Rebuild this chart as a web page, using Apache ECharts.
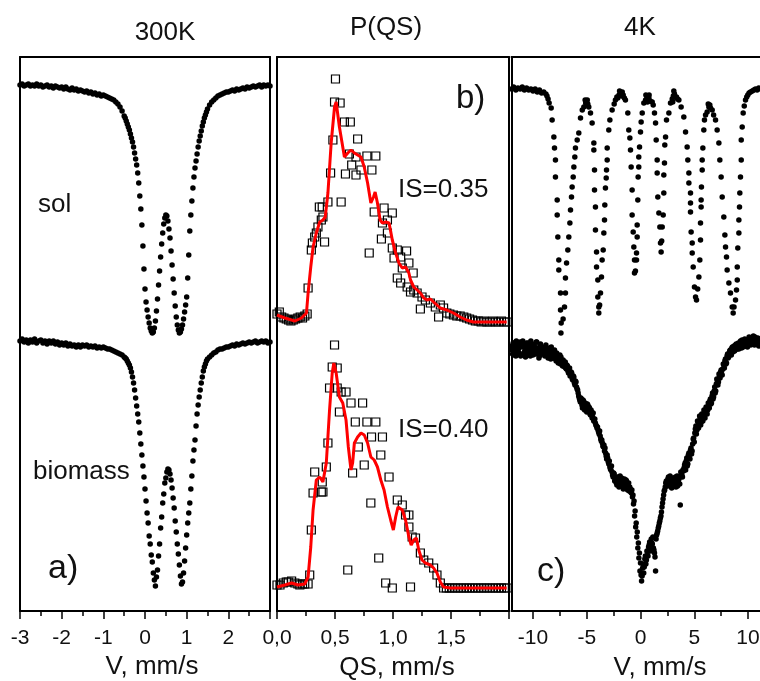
<!DOCTYPE html>
<html>
<head>
<meta charset="utf-8">
<script src="https://cdn.jsdelivr.net/npm/echarts/dist/echarts.min.js"></script>
<style>html,body{margin:0;padding:0;background:#fff}#c{width:760px;height:681px}</style>
</head>
<body>
<div id="c"></div>
<script>
// ---------- Panel a: 300K spectra (velocity, mm/s ; counts in plot units) ----------
const velA = [
-3,-2.95,-2.9,-2.85,-2.8,-2.75,-2.7,-2.65,-2.6,-2.55,
-2.5,-2.45,-2.4,-2.35,-2.3,-2.25,-2.2,-2.15,-2.1,-2.05,
-2,-1.95,-1.9,-1.85,-1.8,-1.75,-1.7,-1.65,-1.6,-1.55,
-1.5,-1.45,-1.4,-1.35,-1.3,-1.25,-1.2,-1.15,-1.1,-1.05,
-1,-0.95,-0.9,-0.85,-0.8,-0.75,-0.7,-0.65,-0.6,-0.55,-0.5,
-0.475,-0.45,-0.425,-0.4,-0.375,-0.35,-0.325,-0.3,-0.275,-0.25,
-0.225,-0.2,-0.175,-0.15,-0.125,-0.1,-0.075,-0.05,-0.025,0,
0.025,0.05,0.075,0.1,0.125,0.15,0.175,0.2,0.225,0.25,
0.275,0.3,0.325,0.35,0.375,0.4,0.425,0.45,0.475,0.5,
0.525,0.55,0.575,0.6,0.625,0.65,0.675,0.7,0.725,0.75,
0.775,0.8,0.825,0.85,0.875,0.9,0.925,0.95,0.975,1,
1.025,1.05,1.075,1.1,1.125,1.15,1.175,1.2,1.225,1.25,
1.275,1.3,1.325,1.35,1.375,1.4,1.425,1.45,1.475,1.5,
1.55,1.6,1.65,1.7,1.75,1.8,1.85,1.9,1.95,2,
2.05,2.1,2.15,2.2,2.25,2.3,2.35,2.4,2.45,2.5,
2.55,2.6,2.65,2.7,2.75,2.8,2.85,2.9,2.95,3];
const solT = [
526,527,525,526,527,525,526,525,527,525,
526,524,525,526,524,525,523,525,524,523,
524,522,524,522,521,523,521,522,520,521,
520,519,520,518,519,517,518,516,517,515,
516,515,514,513,512,511,509,507,504,500,495,
493,490,487,484,481,477,473,469,464,458,
452,446,438,428,415,402,386,365,342,322,
309,301,294,288,283,280,278,279,283,290,
300,312,326,340,354,367,378,387,393,396,
395,390,382,373,360,346,332,318,305,294,
286,281,278,279,282,286,292,299,306,314,
333,356,380,396,410,423,434,443,450,457,
464,470,475,480,485,489,493,496,499,502,
506,509,511,513,515,516,517,518,519,519,
520,521,520,522,521,522,523,522,524,523,
524,525,524,525,526,524,526,525,526,525];
const bioT = [
270,272,269,271,268,271,269,272,268,270,
271,268,270,267,270,268,270,267,269,266,
268,266,268,265,267,265,266,264,266,264,
266,265,266,264,265,264,265,263,264,263,
264,263,262,262,261,260,259,258,257,256,254,
253,252,250,248,246,243,239,234,228,221,
213,205,197,189,178,167,156,145,134,122,
110,98,88,75,67,56,49,38,31,25,
34,41,55,67,83,94,108,117,128,133,
139,142,141,137,131,123,113,103,90,79,
67,57,46,35,27,29,38,50,63,76,
88,98,108,122,135,150,161,171,185,197,
206,214,221,228,234,240,244,247,250,252,
254,256,258,259,261,262,262,263,264,264,
265,266,265,267,266,267,268,267,268,269,
268,269,270,268,269,270,269,270,268,269];

// ---------- Panel b: P(QS) distributions [QS, P] ----------
const sq35 = [
[0,297],[0.02,299],[0.04,294],[0.06,293],[0.08,292],[0.1,291],[0.12,290],[0.14,291],[0.16,292],[0.18,293],[0.2,294],[0.22,293],[0.24,295],[0.26,297],
[0.268,323],[0.296,361],[0.305,368],[0.325,374],[0.339,378],[0.353,384],[0.365,404],[0.382,391],[0.39,404],[0.396,394],[0.41,369],[0.439,409],[0.462,438],[0.482,471],[0.496,509],[0.504,532],[0.544,508],[0.553,409],[0.581,489],[0.59,437],[0.624,457],[0.632,489],[0.644,446],[0.681,436],[0.681,454],[0.695,472],[0.724,441],[0.775,455],[0.795,358],[0.818,441],[0.838,399],[0.852,455],[0.9,372],[0.909,388],[0.923,403],[0.952,391],[0.952,378],[0.994,398],[0.994,363],[1.009,353],[1.037,361],[1.037,333],[1.066,354],[1.066,328],[1.08,343],[1.117,360],[1.122,324],[1.137,348],[1.151,319],[1.174,338],[1.179,321],[1.208,318],[1.236,302],[1.25,314],[1.279,311],[1.322,308],[1.365,304],[1.393,294],[1.408,306],[1.436,303],[1.464,298],[1.49,297],[1.521,296],[1.55,295],[1.579,295],[1.61,294],[1.635,293],[1.66,292],[1.685,291],[1.71,290],[1.735,290],[1.76,289],[1.785,290],[1.81,289],[1.835,289],[1.86,290],[1.885,289],[1.91,289],[1.935,290],[1.96,289],[1.985,289]];
const fit35 = [
[0,296],[0.068,293],[0.154,290],[0.211,293],[0.254,298],[0.268,318],[0.291,344],[0.311,364],[0.339,378],[0.368,389],[0.396,391],[0.416,394],[0.439,418],[0.467,468],[0.496,504],[0.51,509],[0.538,484],[0.567,464],[0.581,454],[0.61,458],[0.638,461],[0.667,458],[0.695,456],[0.724,454],[0.752,444],[0.781,428],[0.809,408],[0.832,414],[0.846,419],[0.866,408],[0.889,391],[0.909,388],[0.937,389],[0.966,388],[0.994,371],[1.023,358],[1.051,348],[1.08,343],[1.108,344],[1.137,338],[1.151,331],[1.179,324],[1.208,321],[1.236,318],[1.265,313],[1.293,311],[1.322,312],[1.35,309],[1.379,306],[1.407,303],[1.436,302],[1.464,301],[1.521,298],[1.579,294],[1.635,291],[1.692,289],[1.98,289]];
const sq40 = [
[0,26],[0.026,26],[0.054,28],[0.08,29],[0.097,29],[0.126,30],[0.154,28],[0.18,27],[0.197,26],[0.22,27],[0.239,27],[0.268,27],[0.282,36],[0.296,81],[0.311,118],[0.325,139],[0.382,119],[0.39,129],[0.396,119],[0.425,144],[0.439,168],[0.453,223],[0.476,244],[0.496,266],[0.519,243],[0.519,223],[0.538,199],[0.553,219],[0.595,219],[0.61,41],[0.638,208],[0.652,138],[0.675,189],[0.701,164],[0.738,208],[0.752,146],[0.775,189],[0.809,108],[0.815,174],[0.852,189],[0.877,53],[0.895,156],[0.909,174],[0.937,28],[0.966,134],[0.994,23],[1.037,111],[1.08,106],[1.108,96],[1.137,96],[1.137,84],[1.151,24],[1.165,74],[1.194,73],[1.236,58],[1.265,51],[1.308,48],[1.35,43],[1.379,36],[1.408,28],[1.436,23],[1.46,23],[1.485,23],[1.51,23],[1.535,23],[1.56,23],[1.585,23],[1.61,23],[1.635,23],[1.66,23],[1.685,23],[1.71,23],[1.735,23],[1.76,23],[1.785,23],[1.81,23],[1.835,23],[1.86,23],[1.885,23],[1.91,23],[1.935,23],[1.96,23],[1.985,23]];
const fit40 = [
[0,24],[0.068,26],[0.126,28],[0.182,26],[0.239,27],[0.268,34],[0.291,64],[0.311,101],[0.339,131],[0.368,134],[0.396,129],[0.425,148],[0.453,201],[0.476,238],[0.49,248],[0.51,238],[0.538,214],[0.567,208],[0.595,191],[0.615,164],[0.638,141],[0.652,148],[0.667,168],[0.695,174],[0.724,178],[0.752,176],[0.781,168],[0.809,154],[0.838,151],[0.866,144],[0.895,131],[0.923,121],[0.952,104],[0.98,91],[1.003,81],[1.023,94],[1.043,104],[1.08,101],[1.108,91],[1.137,74],[1.157,66],[1.179,71],[1.202,73],[1.222,61],[1.25,51],[1.279,48],[1.322,46],[1.35,43],[1.379,38],[1.408,29],[1.436,24],[1.493,23],[1.98,23]];

// ---------- Panel c: 4K spectra ----------
const top4K = [
[-12,522],[-11.8,524],[-11.6,521],[-11.4,523],[-11.2,522],[-11,524],[-10.8,521],[-10.6,523],[-10.4,521],[-10.2,522],[-10,520],[-9.8,522],[-9.6,519],[-9.4,521],[-9.2,518],[-9,519],[-8.8,517],[-8.7,515],[-8.6,512],[-8.5,508],
[-8.31,503],[-8.22,491],[-8.06,474],[-8,463],[-7.91,451],[-7.91,434],[-7.75,411],[-7.75,396],[-7.69,374],[-7.6,351],[-7.6,341],[-7.44,318],[-7.44,301],[-7.38,288],[-7.4,278],
[-7.2,292],[-7.07,304],[-6.98,318],[-6.98,333],[-6.88,348],[-6.76,361],[-6.67,374],[-6.57,388],[-6.51,401],[-6.42,414],[-6.36,424],[-6.26,434],[-6.2,444],[-6.11,454],[-6.05,463],[-5.89,471],[-5.74,478],[-5.58,493],[-5.42,501],[-5.27,504],[-5.15,511],[-5.1,508],[-5.02,506],[-4.95,511],[-4.9,507],[-4.81,504],[-4.65,498],
[-4.5,488],[-4.34,468],[-4.34,461],[-4.28,441],[-4.28,421],[-4.19,404],[-4.19,381],[-4.09,359],[-4.09,344],[-3.97,331],[-3.97,314],[-3.88,304],[-3.88,298],[-3.8,306],[-3.72,318],[-3.63,334],[-3.57,351],[-3.47,361],[-3.41,378],[-3.35,391],[-3.32,406],[-3.26,423],[-3.19,433],[-3.16,441],[-3.1,451],[-3.1,463],[-2.95,481],[-2.85,491],[-2.64,501],[-2.45,507],[-2.33,511],[-2.2,514],[-2.11,513],[-2,516],[-1.95,520],[-1.86,517],[-1.75,515],[-1.7,519],[-1.61,516],[-1.5,513],[-1.4,511],
[-1.18,498],[-1.09,481],[-0.99,473],[-0.93,461],[-0.87,444],[-0.78,421],[-0.78,396],[-0.68,379],[-0.62,364],[-0.56,351],[-0.56,338],[-0.47,340],[-0.37,351],[-0.37,358],[-0.31,374],[-0.31,386],[-0.25,411],[-0.22,434],[-0.16,444],[-0.16,454],[-0.09,464],[0,479],[0.06,489],[0.16,498],[0.31,508],[0.47,511],[0.5,516],[0.6,514],[0.65,509],[0.7,511],[0.78,513],[0.8,516],[0.9,510],[1.09,509],
[1.18,506],[1.3,498],[1.4,488],[1.46,471],[1.55,451],[1.55,438],[1.61,414],[1.71,398],[1.8,384],[1.86,368],[1.92,359],[1.97,370],[2.02,384],[2.11,396],[2.17,418],[2.17,436],[2.23,448],[2.26,466],[2.33,474],[2.42,491],[2.64,498],[2.79,508],[2.95,512],[3,509],[3.05,515],[3.1,520],[3.16,517],[3.25,514],[3.35,514],[3.45,512],
[3.57,511],[3.78,504],[4.03,494],[4.19,479],[4.34,464],[4.4,451],[4.5,438],[4.5,428],[4.65,418],[4.65,408],[4.65,399],[4.71,379],[4.81,368],[4.81,358],[4.9,344],[5.02,324],[5.12,314],[5.21,311],[5.32,322],[5.43,334],[5.52,351],[5.58,371],[5.58,388],[5.64,404],[5.64,411],[5.67,424],[5.74,441],[5.74,451],[5.8,463],[5.89,481],[5.95,491],[6.05,496],[6.2,499],[6.3,507],[6.36,504],[6.45,506],[6.51,503],
[6.67,501],[6.8,496],[6.98,491],[7.13,481],[7.29,468],[7.38,451],[7.5,434],[7.6,414],[7.75,394],[7.85,376],[7.91,364],[8,354],[8.06,341],[8.22,328],[8.37,318],[8.53,304],[8.62,298],[8.7,304],[8.84,311],[8.93,321],[9,331],[9,344],[9.05,363],[9.15,378],[9.15,391],[9.21,404],[9.24,418],[9.3,434],[9.37,451],[9.37,471],[9.46,484],[9.55,498],[9.65,505],[9.77,511],[9.88,514],[9.98,516],[10.1,518],[10.23,519],[10.4,520],[10.54,521],[10.7,522],[10.85,521],[11,523],[11.2,522],[11.4,524],[11.6,523],[11.8,524],[12,523]];
const velC = [
-12,-11.9,-11.8,-11.7,-11.6,-11.5,-11.4,-11.3,-11.2,-11.1,
-11,-10.9,-10.8,-10.7,-10.6,-10.5,-10.4,-10.3,-10.2,-10.1,
-10,-9.9,-9.8,-9.7,-9.6,-9.5,-9.4,-9.3,-9.2,-9.1,
-9,-8.9,-8.8,-8.7,-8.6,-8.5,-8.4,-8.3,-8.2,-8.1,
-8,-7.9,-7.8,-7.7,-7.6,-7.5,-7.4,-7.3,-7.2,-7.1,
-7,-6.9,-6.8,-6.7,-6.6,-6.5,-6.4,-6.3,-6.2,-6.1,
-6,-5.9,-5.8,-5.7,-5.6,-5.5,-5.4,-5.3,-5.2,-5.1,
-5,-4.9,-4.8,-4.7,-4.6,-4.5,-4.4,-4.3,-4.2,-4.1,
-4,-3.9,-3.8,-3.7,-3.6,-3.5,-3.4,-3.3,-3.2,-3.1,
-3,-2.9,-2.8,-2.7,-2.6,-2.5,-2.4,-2.3,-2.2,-2.1,
-2,-1.9,-1.8,-1.7,-1.6,-1.5,-1.4,-1.3,-1.2,-1.1,
-1,-0.9,-0.8,-0.7,-0.6,-0.5,-0.4,-0.3,-0.2,-0.1,
0,0.1,0.2,0.3,0.4,0.5,0.6,0.7,0.8,0.9,
1,1.1,1.2,1.3,1.4,1.5,1.6,1.7,1.8,1.9,
2,2.1,2.2,2.3,2.4,2.5,2.6,2.7,2.8,2.9,
3,3.1,3.2,3.3,3.4,3.5,3.6,3.7,3.8,3.9,
4,4.1,4.2,4.3,4.4,4.5,4.6,4.7,4.8,4.9,
5,5.1,5.2,5.3,5.4,5.5,5.6,5.7,5.8,5.9,
6,6.1,6.2,6.3,6.4,6.5,6.6,6.7,6.8,6.9,
7,7.1,7.2,7.3,7.4,7.5,7.6,7.7,7.8,7.9,
8,8.1,8.2,8.3,8.4,8.5,8.6,8.7,8.8,8.9,
9,9.1,9.2,9.3,9.4,9.5,9.6,9.7,9.8,9.9,
10,10.1,10.2,10.3,10.4,10.5,10.6,10.7,10.8,10.9,
11,11.1,11.2,11.3,11.4,11.5,11.6,11.7,11.8,11.9];
const bot4K = [
265,257,268,260,255,266,263,258,269,256,
264,267,259,254,268,262,257,265,270,260,
256,266,261,269,258,263,255,267,262,259,
263,255,266,258,253,262,259,264,254,260,
261,252,258,255,250,256,254,247,251,246,
249,242,245,238,243,236,238,231,234,226,
229,222,218,213,209,212,203,210,201,207,
199,206,204,197,201,193,198,191,188,185,
184,179,180,172,171,165,166,163,155,156,
149,150,142,145,136,138,130,133,126,131,
124,135,127,129,122,132,125,130,121,128,
124,119,121,116,110,100,88,79,68,58,
48,30,43,38,52,47,60,55,66,62,
72,67,63,58,40,76,80,85,90,95,
104,112,120,124,130,127,134,125,131,123,
133,126,130,124,135,129,133,106,137,134,
140,146,141,153,147,158,152,163,160,172,
169,182,177,190,183,195,186,197,190,201,
193,204,197,208,203,212,208,218,214,224,
220,232,226,237,233,241,236,247,243,252,
248,257,254,260,258,263,259,265,261,267,
262,268,264,270,263,269,266,272,265,271,
268,274,267,272,269,275,266,271,268,273,
265,270,267,271,266,272,268,270,266,269];
// intermediate channels of the 4K biomass spectrum
const velC2 = [
-11.95,-11.85,-11.75,-11.65,-11.55,-11.45,-11.35,-11.25,-11.15,-11.05,
-10.95,-10.85,-10.75,-10.65,-10.55,-10.45,-10.35,-10.25,-10.15,-10.05,
-9.95,-9.85,-9.75,-9.65,-9.55,-9.45,-9.35,-9.25,-9.15,-9.05,
-8.95,-8.85,-8.75,-8.65,-8.55,-8.45,-8.35,-8.25,-8.15,-8.05,
-7.95,-7.85,-7.75,-7.65,-7.55,-7.45,-7.35,-7.25,-7.15,-7.05,
-6.95,-6.85,-6.75,-6.65,-6.55,-6.45,-6.35,-6.25,-6.15,-6.05,
-5.95,-5.85,-5.75,-5.65,-5.55,-5.45,-5.35,-5.25,-5.15,-5.05,
-4.95,-4.85,-4.75,-4.65,-4.55,-4.45,-4.35,-4.25,-4.15,-4.05,
-3.95,-3.85,-3.75,-3.65,-3.55,-3.45,-3.35,-3.25,-3.15,-3.05,
-2.95,-2.85,-2.75,-2.65,-2.55,-2.45,-2.35,-2.25,-2.15,-2.05,
-1.95,-1.85,-1.75,-1.65,-1.55,-1.45,-1.35,-1.25,-1.15,-1.05,
-0.95,-0.85,-0.75,-0.65,-0.55,-0.45,-0.35,-0.25,-0.15,-0.05,
0.05,0.15,0.25,0.35,0.45,0.55,0.65,0.75,0.85,0.95,
1.05,1.15,1.25,1.35,1.45,1.55,1.65,1.75,1.85,1.95,
2.05,2.15,2.25,2.35,2.45,2.55,2.65,2.75,2.85,2.95,
3.05,3.15,3.25,3.35,3.45,3.55,3.65,3.75,3.85,3.95,
4.05,4.15,4.25,4.35,4.45,4.55,4.65,4.75,4.85,4.95,
5.05,5.15,5.25,5.35,5.45,5.55,5.65,5.75,5.85,5.95,
6.05,6.15,6.25,6.35,6.45,6.55,6.65,6.75,6.85,6.95,
7.05,7.15,7.25,7.35,7.45,7.55,7.65,7.75,7.85,7.95,
8.05,8.15,8.25,8.35,8.45,8.55,8.65,8.75,8.85,8.95,
9.05,9.15,9.25,9.35,9.45,9.55,9.65,9.75,9.85,9.95,
10.05,10.15,10.25,10.35,10.45,10.55,10.65,10.75,10.85,10.95,
11.05,11.15,11.25,11.35,11.45,11.55,11.65,11.75,11.85,11.95];
const bot4K2 = [
261,268,256,264,270,259,262,267,255,265,
270,258,263,266,256,268,261,255,264,267,
260,264,257,269,262,253,266,259,264,257,
258,264,256,261,257,263,252,258,256,253,
256,250,254,248,252,247,250,245,249,244,
243,246,240,241,235,239,232,235,228,230,
224,221,215,211,213,206,211,204,208,202,
207,200,203,196,199,194,190,192,186,183,
181,177,175,170,168,164,160,158,152,153,
147,144,141,139,134,137,131,128,134,127,
130,125,133,126,129,123,131,124,127,120,
122,118,114,107,95,84,74,63,53,40,
36,35,47,44,55,51,59,64,69,60,
68,74,61,54,72,78,83,88,93,99,
108,116,121,128,125,132,128,135,126,129,
131,127,134,128,125,131,127,139,136,141,
143,148,150,145,156,153,161,157,167,173,
178,185,181,189,186,193,189,196,194,199,
198,203,201,206,210,207,215,212,220,218,
227,230,229,235,239,240,242,246,250,247,
255,253,258,261,256,264,262,260,266,263,
265,262,268,266,271,264,270,267,269,264,
270,272,266,273,268,270,274,267,271,269,
267,272,268,265,270,271,267,273,266,270];

// ---------- Axis ticks ----------
const majorA = [-3,-2,-1,0,1,2,3], labelsA = [-3,-2,-1,0,1,2], minorA = [-2.5,-1.5,-0.5,0.5,1.5,2.5];
const majorB = [0,0.5,1,1.5,2], labelsB = [0,0.5,1,1.5], minorB = [0.25,0.75,1.25,1.75];
const majorC = [-10,-5,0,5,10], labelsC = [-10,-5,0,5,10], minorC = [-7.5,-2.5,2.5,7.5];

const FONT = '"Liberation Sans", Arial, Helvetica, sans-serif';
const INK = '#111';
const frameLine = {color:'#000', width:2};

const xAxes = [], yAxes = [];
function addPanel(p, min, max, major, labels, minor, fmt) {
  xAxes.push({gridIndex:p, type:'value', min:min, max:max, position:'bottom',
    axisLine:{show:true, onZero:false, lineStyle:frameLine},
    axisTick:{show:true, customValues:major, length:8, lineStyle:{color:'#000', width:1.5}},
    axisLabel:{show:true, customValues:labels, formatter:fmt, fontSize:21, fontFamily:FONT, color:INK, margin:17},
    splitLine:{show:false}});
  xAxes.push({gridIndex:p, type:'value', min:min, max:max, position:'bottom',
    axisLine:{show:false, onZero:false},
    axisTick:{show:true, customValues:minor, length:5, lineStyle:{color:'#000', width:1.5}},
    axisLabel:{show:false}, splitLine:{show:false}});
  xAxes.push({gridIndex:p, type:'value', min:min, max:max, position:'top',
    axisLine:{show:true, onZero:false, lineStyle:frameLine},
    axisTick:{show:false}, axisLabel:{show:false}, splitLine:{show:false}});
  yAxes.push({gridIndex:p, type:'value', min:0, max:554, position:'left',
    axisLine:{show:true, onZero:false, lineStyle:frameLine},
    axisTick:{show:false}, axisLabel:{show:false}, splitLine:{show:false}});
  yAxes.push({gridIndex:p, type:'value', min:0, max:554, position:'right',
    axisLine:{show:true, onZero:false, lineStyle:frameLine},
    axisTick:{show:false}, axisLabel:{show:false}, splitLine:{show:false}});
}
addPanel(0, -3, 3, majorA, labelsA, minorA, v => String(v));
addPanel(1, 0, 2, majorB, labelsB, minorB, v => Number(v).toFixed(1).replace('.', ','));
addPanel(2, -12, 12, majorC, labelsC, minorC, v => String(v));

const dot = {type:'scatter', symbol:'circle', symbolSize:5.5, silent:true, clip:false,
  itemStyle:{color:'#000', opacity:1}};
const sq = {type:'scatter', symbol:'rect', symbolSize:8, silent:true, clip:false,
  itemStyle:{color:'rgba(255,255,255,0)', borderColor:'#000', borderWidth:1.2, opacity:1}};
const red = {type:'line', showSymbol:false, symbol:'none', silent:true, z:5,
  lineStyle:{color:'#ff0000', width:3}, itemStyle:{color:'#ff0000'}};

function txt(x, y, s, size, align) {
  return {type:'text', x:x, y:y, z:100, silent:true,
    style:{text:s, fontSize:size, fontFamily:FONT, fill:INK, align:align || 'center', verticalAlign:'middle'}};
}

const option = {
  animation:false,
  backgroundColor:'#fff',
  grid:[
    {left:20, top:57, width:250, height:554, containLabel:false, outerBoundsMode:'none'},
    {left:277, top:57, width:232, height:554, containLabel:false, outerBoundsMode:'none'},
    {left:511.5, top:57, width:258, height:554, containLabel:false, outerBoundsMode:'none'}
  ],
  xAxis:xAxes,
  yAxis:yAxes,
  series:[
    Object.assign({}, dot, {xAxisIndex:0, yAxisIndex:0, data:velA.map((v,i)=>[v, solT[i]])}),
    Object.assign({}, dot, {xAxisIndex:0, yAxisIndex:0, data:velA.map((v,i)=>[v, bioT[i]])}),
    Object.assign({}, sq, {xAxisIndex:3, yAxisIndex:2, data:sq35}),
    Object.assign({}, sq, {xAxisIndex:3, yAxisIndex:2, data:sq40}),
    Object.assign({}, red, {xAxisIndex:3, yAxisIndex:2, data:fit35}),
    Object.assign({}, red, {xAxisIndex:3, yAxisIndex:2, data:fit40}),
    Object.assign({}, dot, {xAxisIndex:6, yAxisIndex:4, data:top4K}),
    Object.assign({}, dot, {xAxisIndex:6, yAxisIndex:4, data:velC.map((v,i)=>[v, bot4K[i]])}),
    Object.assign({}, dot, {xAxisIndex:6, yAxisIndex:4, data:velC2.map((v,i)=>[v, bot4K2[i]])})
  ],
  graphic:[
    txt(165, 33, '300K', 26),
    txt(386, 28, 'P(QS)', 26),
    txt(640, 28, '4K', 26),
    txt(38, 205, 'sol', 26, 'left'),
    txt(33, 472, 'biomass', 26, 'left'),
    txt(48, 569, 'a)', 34, 'left'),
    txt(456, 99, 'b)', 33, 'left'),
    txt(537, 572, 'c)', 34, 'left'),
    txt(398, 190, 'IS=0.35', 26, 'left'),
    txt(398, 430, 'IS=0.40', 26, 'left'),
    txt(152, 667, 'V, mm/s', 26),
    txt(397, 668, 'QS, mm/s', 26),
    txt(660, 668, 'V, mm/s', 26)
  ]
};
const chart = echarts.init(document.getElementById('c'), null, {renderer:'canvas', width:760, height:681});
chart.setOption(option);
</script>
</body>
</html>
